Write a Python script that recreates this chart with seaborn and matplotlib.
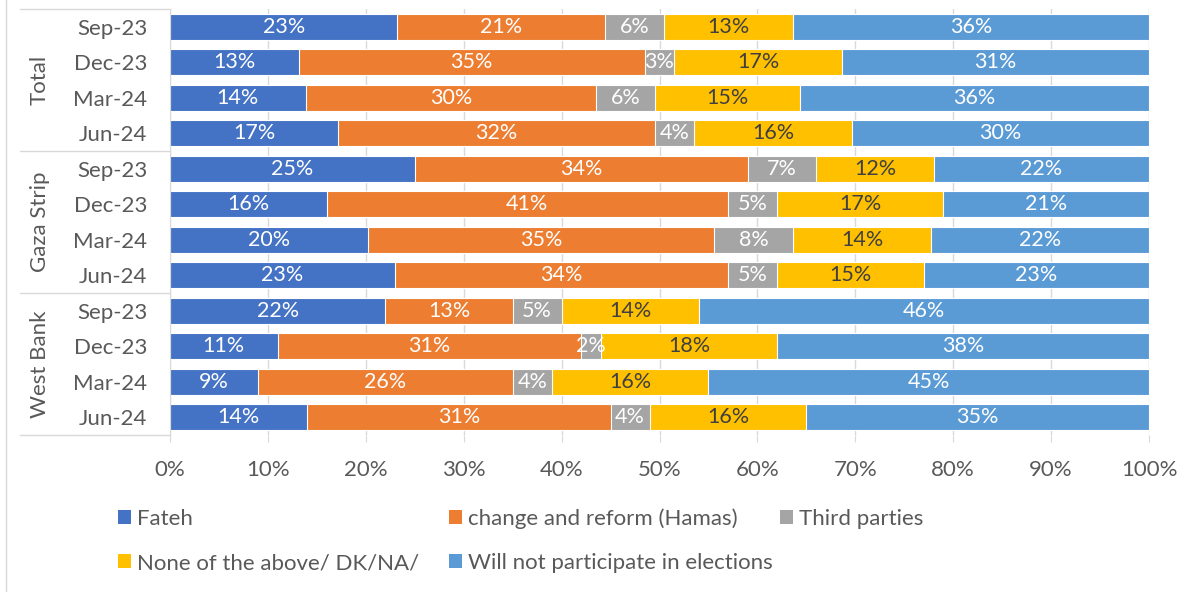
import pandas as pd
import matplotlib.pyplot as plt
import matplotlib.transforms as mtransforms
from matplotlib.lines import Line2D
from matplotlib.patches import Patch
import seaborn as sns

# data (percent)
groups = ['Total', 'Gaza Strip', 'West Bank']
periods = ['Sep-23', 'Dec-23', 'Mar-24', 'Jun-24']
series_names = ['Fateh', 'change and reform (Hamas)', 'Third parties',
                'None of the above/ DK/NA/', 'Will not participate in elections']
fateh = [23, 13, 14, 17, 25, 16, 20, 23, 22, 11, 9, 14]
hamas = [21, 35, 30, 32, 34, 41, 35, 34, 13, 31, 26, 31]
third = [6, 3, 6, 4, 7, 5, 8, 5, 5, 2, 4, 4]
none_above = [13, 17, 15, 16, 12, 17, 14, 15, 14, 18, 16, 16]
abstain = [36, 31, 36, 30, 22, 21, 22, 23, 46, 38, 45, 35]

colors = ['#4472C4', '#ED7D31', '#A5A5A5', '#FFC000', '#5B9BD5']
label_colors = ['white', 'white', 'white', '#404040', 'white']
text_gray = '#595959'

plt.rcParams['font.family'] = ['Lato', 'DejaVu Sans']

# build table: one row per group/period, normalised to 100% like Excel
rows = [f'{g}|{p}' for g in groups for p in periods]
df = pd.DataFrame({'row': rows, 'Fateh': fateh, 'Hamas': hamas, 'Third': third,
                   'None': none_above, 'Abstain': abstain})
cols = ['Fateh', 'Hamas', 'Third', 'None', 'Abstain']
total = df[cols].sum(axis=1)
for c in cols:
    df[c + '_pct'] = df[c] / total * 100
cum = df[[c + '_pct' for c in cols]].cumsum(axis=1)
for c in cols:
    df[c + '_cum'] = cum[c + '_pct']

fig, ax = plt.subplots(figsize=(11.83, 5.92), dpi=100)
fig.subplots_adjust(left=170 / 1183, right=1149 / 1183, top=1 - 9 / 592, bottom=1 - 435 / 592)

ax.set_axisbelow(True)
ax.grid(axis='x', color='#D9D9D9', linewidth=1)

# draw stacked bars back to front using cumulative sums
for c, col in reversed(list(zip(cols, colors))):
    sns.barplot(data=df, x=c + '_cum', y='row', order=rows, orient='h', color=col,
                saturation=1, width=0.73, edgecolor='white', linewidth=0.8, ax=ax)

# data labels
for c, lc in zip(cols, label_colors):
    for i in range(len(df)):
        center = df.loc[i, c + '_cum'] - df.loc[i, c + '_pct'] / 2
        ax.text(center, i, f'{df.loc[i, c]}%', ha='center', va='center',
                color=lc, fontsize=15.5)

ax.set_xlim(0, 100)
ax.set_ylim(len(rows) - 0.5, -0.5)
ax.set_xticks(range(0, 101, 10))
ax.set_xticklabels([f'{t}%' for t in range(0, 101, 10)])
ax.set_yticks(range(len(rows)))
ax.set_yticklabels(periods * len(groups))
ax.set_xlabel('')
ax.set_ylabel('')
ax.tick_params(axis='y', length=0, pad=16.5, labelsize=16, labelcolor=text_gray)
ax.tick_params(axis='x', length=5, color='#D9D9D9', pad=13, labelsize=16, labelcolor=text_gray)
for s in ['top', 'right', 'bottom']:
    ax.spines[s].set_visible(False)
ax.spines['left'].set_color('#D9D9D9')

# group labels and separators on the left
trans = mtransforms.blended_transform_factory(ax.transAxes, ax.transData)
for k, g in enumerate(groups):
    ax.text(-0.133, k * 4 + 1.5, g, rotation=90, ha='center', va='center',
            transform=trans, fontsize=16, color=text_gray)
for yb in [-0.5, 3.5, 7.5, 11.5]:
    ax.plot([-0.1532, 0], [yb, yb], transform=trans, color='#D9D9D9',
            linewidth=1, clip_on=False)

# chart border (left)
fig.add_artist(Line2D([6 / 1183, 6 / 1183], [0, 1], transform=fig.transFigure,
                      color='#D9D9D9', linewidth=1))

# legend entries placed like Excel's flow layout
legend_pos = [(118, 519), (449, 519), (780, 519), (118, 563), (449, 563)]
for name, col, (lx, ly) in zip(series_names, colors, legend_pos):
    fig.legend(handles=[Patch(facecolor=col, edgecolor='none')], labels=[name],
               loc='center left', bbox_to_anchor=(lx / 1183, 1 - ly / 592),
               frameon=False, borderpad=0, borderaxespad=0, handlelength=0.59,
               handleheight=0.59, handletextpad=0.27, fontsize=16, labelcolor=text_gray)

plt.savefig('out.png', dpi=100)
